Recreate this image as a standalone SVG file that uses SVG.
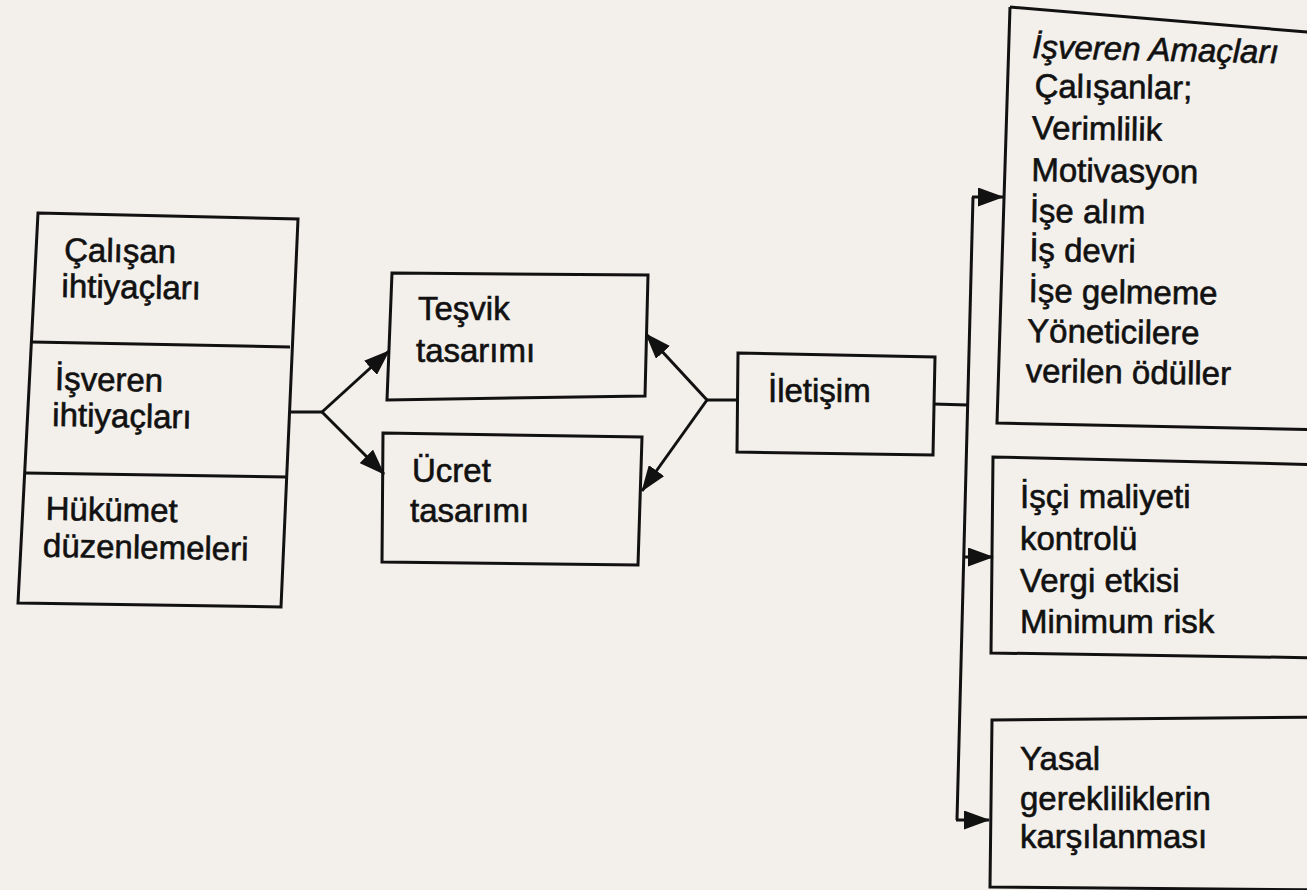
<svg xmlns="http://www.w3.org/2000/svg" width="1307" height="890" viewBox="0 0 1307 890">
<defs>
<marker id="ah" viewBox="0 0 26 19" refX="25" refY="9.5" markerWidth="26" markerHeight="19" markerUnits="userSpaceOnUse" orient="auto">
<path d="M0,0 L26,9.5 L0,19 z" fill="#111"/>
</marker>
</defs>
<style>
.box{fill:none;stroke:#111;stroke-width:3;stroke-linejoin:miter}
.ln{fill:none;stroke:#111;stroke-width:3}
.t{font-family:"Liberation Sans",Arial,sans-serif;font-size:33px;fill:#111;stroke:#111;stroke-width:0.6}
.it{font-style:italic}
</style>
<rect width="1307" height="890" fill="#f3efea"/>
<g id="needs">
<path class="box" d="M38,213 L298,219 L281,607 L18,603 Z"/>
<path class="ln" d="M32,342 L290,347 M25,473 L287,477"/>
<g transform="rotate(1 60 260)">
<text class="t" x="64" y="261">Çalışan</text>
<text class="t" x="62" y="297">ihtiyaçları</text>
<text class="t" x="57" y="390">İşveren</text>
<text class="t" x="55" y="426">ihtiyaçları</text>
<text class="t" x="50" y="520">Hükümet</text>
<text class="t" x="48" y="557">düzenlemeleri</text>
</g>
</g>
<g id="tesvik">
<path class="box" d="M392,273 L648,275 L645,396 L387,400 Z"/>
<text class="t" x="418" y="320">Teşvik</text>
<text class="t" x="416" y="362">tasarımı</text>
</g>
<g id="ucret">
<path class="box" d="M383,433 L642,437 L638,565 L382,562 Z"/>
<text class="t" x="412" y="482">Ücret</text>
<text class="t" x="410" y="522">tasarımı</text>
</g>
<g id="iletisim">
<path class="box" d="M738,353 L935,357 L933,455 L737,452 Z"/>
<text class="t" x="768" y="402">İletişim</text>
</g>
<g id="amaclar">
<path class="box" d="M1010,7 L1330,34 M1010,7 L997,423 L1330,430"/>
<g transform="rotate(1.2 1030 60)">
<text class="t it" x="1032" y="58">İşveren Amaçları</text>
</g>
<g transform="rotate(0.8 1030 200)">
<text class="t" x="1033" y="97">Çalışanlar;</text>
<text class="t" x="1031" y="139">Verimlilik</text>
<text class="t" x="1031" y="181">Motivasyon</text>
<text class="t" x="1030" y="222">İşe alım</text>
<text class="t" x="1030" y="261">İş devri</text>
<text class="t" x="1030" y="302">İşe gelmeme</text>
<text class="t" x="1029" y="342">Yöneticilere</text>
<text class="t" x="1028" y="382">verilen ödüller</text>
</g>
</g>
<g id="maliyet">
<path class="box" d="M1330,465 L993,457 L991,653 L1330,658"/>
<text class="t" x="1020" y="508">İşçi maliyeti</text>
<text class="t" x="1020" y="550">kontrolü</text>
<text class="t" x="1020" y="592">Vergi etkisi</text>
<text class="t" x="1020" y="633">Minimum risk</text>
</g>
<g id="yasal">
<path class="box" d="M1330,717 L992,720 L990,887 L1330,890"/>
<text class="t" x="1020" y="770">Yasal</text>
<text class="t" x="1020" y="810">gerekliliklerin</text>
<text class="t" x="1020" y="848">karşılanması</text>
</g>
<g id="connectors">
<path class="ln" d="M289,412 L322,412"/>
<path class="ln" d="M322,412 L389,351" marker-end="url(#ah)"/>
<path class="ln" d="M322,412 L384,474" marker-end="url(#ah)"/>
<path class="ln" d="M738,400 L707,400"/>
<path class="ln" d="M707,400 L646,334" marker-end="url(#ah)"/>
<path class="ln" d="M707,400 L642,491" marker-end="url(#ah)"/>
<path class="ln" d="M933,404 L968,405"/>
<path class="ln" d="M973,197 L957,820"/>
<path class="ln" d="M972,197 L1003,197" marker-end="url(#ah)"/>
<path class="ln" d="M963,557 L993,557" marker-end="url(#ah)"/>
<path class="ln" d="M956,820 L989,820" marker-end="url(#ah)"/>
</g>
</svg>
